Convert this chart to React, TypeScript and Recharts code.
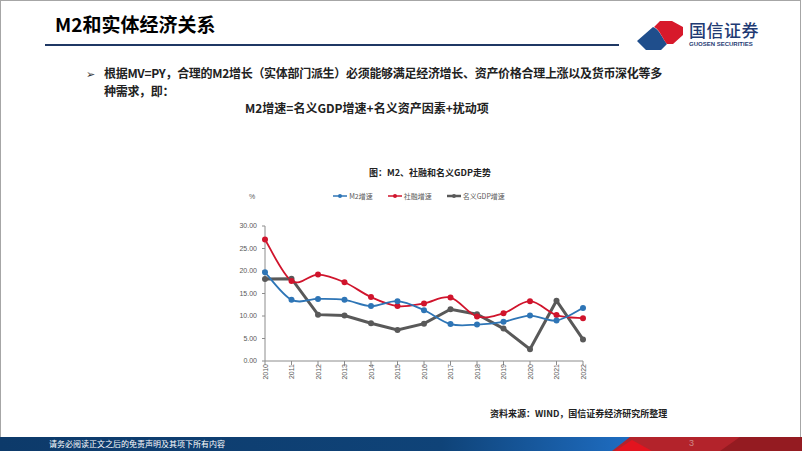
import React from "react";
import { LineChart, Line, XAxis, YAxis, Legend } from "recharts";

const years = ["2010", "2011", "2012", "2013", "2014", "2015", "2016", "2017", "2018", "2019", "2020", "2021", "2022"];
const m2Growth = [19.7, 13.6, 13.8, 13.6, 12.2, 13.3, 11.3, 8.2, 8.1, 8.7, 10.1, 9.0, 11.8];
const tsfGrowth = [27.0, 17.8, 19.2, 17.5, 14.2, 12.2, 12.8, 14.1, 9.9, 10.6, 13.3, 10.2, 9.5];
const gdpGrowth = [18.2, 18.3, 10.3, 10.1, 8.4, 6.9, 8.3, 11.5, 10.4, 7.2, 2.6, 13.4, 4.8];
const yTicks = [0, 5, 10, 15, 20, 25, 30];

const seriesNames = ["M2增速", "社融增速", "名义GDP增速"];
const seriesColors = ["#2E75B6", "#D0142C", "#595959"];

const data = years.map((y, i) => ({ year: y, m2: m2Growth[i], tsf: tsfGrowth[i], gdp: gdpGrowth[i] }));

const CJK = '"Noto Sans CJK SC", "Noto Sans", sans-serif';
const LAT = '"Liberation Sans", Arial, sans-serif';

// Catmull-Rom style smoothing (Excel-like smoothed line)
function smoothCurve(context: any) {
  let pts: number[][] = [];
  return {
    areaStart() {},
    areaEnd() {},
    lineStart() {
      pts = [];
    },
    point(x: number, y: number) {
      pts.push([+x, +y]);
    },
    lineEnd() {
      if (!pts.length) return;
      context.moveTo(pts[0][0], pts[0][1]);
      for (let i = 0; i < pts.length - 1; i++) {
        const p0 = pts[i - 1] || pts[i];
        const p1 = pts[i];
        const p2 = pts[i + 1];
        const p3 = pts[i + 2] || p2;
        const c1x = p1[0] + (p2[0] - p0[0]) / 6;
        const c1y = p1[1] + (p2[1] - p0[1]) / 6;
        const c2x = p2[0] - (p3[0] - p1[0]) / 6;
        const c2y = p2[1] - (p3[1] - p1[1]) / 6;
        context.bezierCurveTo(c1x, c1y, c2x, c2y, p2[0], p2[1]);
      }
    },
  };
}

const XTick = (props: any) => {
  const { x, y, payload } = props;
  return (
    <text
      x={0}
      y={0}
      transform={`translate(${x + 2.5},${y - 1}) rotate(-90)`}
      textAnchor="end"
      fontSize={7}
      fill="#595959"
      fontFamily={LAT}
    >
      {payload.value}
    </text>
  );
};

const LegendContent = () => (
  <div style={{ display: "flex", justifyContent: "center", gap: 15, marginLeft: 18, fontFamily: CJK, fontSize: 7, color: "#595959" }}>
    {seriesNames.map((n, i) => (
      <div key={n} style={{ display: "flex", alignItems: "center" }}>
        <svg width={14} height={8} style={{ marginRight: 2 }}>
          <line x1={0} y1={4} x2={14} y2={4} stroke={seriesColors[i]} strokeWidth={i === 2 ? 2.5 : 1.5} />
          <circle cx={7} cy={4} r={2} fill={seriesColors[i]} />
        </svg>
        <span>{n}</span>
      </div>
    ))}
  </div>
);

export default function App() {
  return (
    <div style={{ position: "absolute", left: 0, top: 0, width: 802, height: 451, background: "#fff", overflow: "hidden" }}>
      {/* frame */}
      <div style={{ position: "absolute", left: 0, top: 0, width: 799, height: 437, borderTop: "1px solid #A6A6A6", borderLeft: "1px solid #A6A6A6", borderRight: "1px solid #A6A6A6" }} />
      {/* title */}
      <div style={{ position: "absolute", left: 55, top: 10, fontFamily: CJK, fontWeight: 700, fontSize: 19, color: "#000", lineHeight: "28px", whiteSpace: "nowrap" }}>
        M2和实体经济关系
      </div>
      <div style={{ position: "absolute", left: 45, top: 44, width: 574, height: 2, background: "#1F3864" }} />
      {/* logo */}
      <svg style={{ position: "absolute", left: 0, top: 0 }} width={802} height={60}>
        <path d="M637,41 L653,27 C660,30 662,38 667,44 L661,50 L646,50 Z" fill="#1F4E8C" />
        <path d="M654,27 L660,21 L672,21 L683,27 L683,35 L673,44 L667,44 C662,38 660,30 654,27 Z" fill="#D7192B" />
      </svg>
      <div style={{ position: "absolute", left: 689, top: 19, fontFamily: CJK, fontSize: 17, fontWeight: 500, color: "#1F3B73", lineHeight: "22px", letterSpacing: 0.5, whiteSpace: "nowrap" }}>
        国信证券
      </div>
      <div style={{ position: "absolute", left: 689, top: 40, fontFamily: LAT, fontSize: 6, fontWeight: 700, color: "#1F3B73", lineHeight: "8px", whiteSpace: "nowrap" }}>
        GUOSEN SECURITIES
      </div>
      {/* bullet text */}
      <div style={{ position: "absolute", left: 86, top: 64, fontFamily: CJK, fontSize: 11, color: "#333", lineHeight: "18px" }}>➢</div>
      <div style={{ position: "absolute", left: 104, top: 64, fontFamily: CJK, fontWeight: 700, fontSize: 12, letterSpacing: -0.3, color: "#222", lineHeight: "18px", whiteSpace: "nowrap" }}>
        根据MV=PY，合理的M2增长（实体部门派生）必须能够满足经济增长、资产价格合理上涨以及货币深化等多
        <br />
        种需求，即：
      </div>
      <div style={{ position: "absolute", left: 245, top: 99, fontFamily: CJK, fontWeight: 700, fontSize: 12, color: "#222", lineHeight: "18px", whiteSpace: "nowrap" }}>
        M2增速=名义GDP增速+名义资产因素+扰动项
      </div>
      {/* chart title */}
      <div style={{ position: "absolute", left: 220, top: 166, width: 420, textAlign: "center", fontFamily: CJK, fontWeight: 700, fontSize: 9, color: "#222", lineHeight: "14px" }}>
        图：M2、社融和名义GDP走势
      </div>
      <div style={{ position: "absolute", left: 249, top: 192, fontFamily: LAT, fontSize: 7, color: "#595959", lineHeight: "10px" }}>%</div>
      {/* chart */}
      <div style={{ position: "absolute", left: 200, top: 180 }}>
        <LineChart width={420} height={220} data={data} margin={{ top: 36, right: 37, left: 0, bottom: 9 }}>
          <XAxis
            dataKey="year"
            interval={0}
            height={30}
            padding={{ left: 0, right: 0 }}
            stroke="#8C8C8C"
            tickSize={4}
            tickMargin={0}
            tick={<XTick />}
          />
          <YAxis
            width={65}
            domain={[0, 30]}
            ticks={yTicks}
            interval={0}
            stroke="#8C8C8C"
            tickSize={3}
            tickMargin={5}
            tickFormatter={(v: number) => v.toFixed(2)}
            tick={{ fontSize: 7, fill: "#595959", fontFamily: LAT }}
          />
          <Legend verticalAlign="top" wrapperStyle={{ position: "absolute", top: 11, left: 0, width: 420 }} content={<LegendContent />} />
          <Line
            dataKey="gdp"
            name={seriesNames[2]}
            type="linear"
            stroke={seriesColors[2]}
            strokeWidth={3}
            dot={{ r: 3, fill: seriesColors[2], stroke: seriesColors[2], strokeWidth: 0 }}
            isAnimationActive={false}
          />
          <Line
            dataKey="tsf"
            name={seriesNames[1]}
            type={smoothCurve as any}
            stroke={seriesColors[1]}
            strokeWidth={1.8}
            dot={{ r: 3, fill: seriesColors[1], stroke: seriesColors[1], strokeWidth: 0 }}
            isAnimationActive={false}
          />
          <Line
            dataKey="m2"
            name={seriesNames[0]}
            type={smoothCurve as any}
            stroke={seriesColors[0]}
            strokeWidth={1.8}
            dot={{ r: 3, fill: seriesColors[0], stroke: seriesColors[0], strokeWidth: 0 }}
            isAnimationActive={false}
          />
        </LineChart>
      </div>
      {/* source */}
      <div style={{ position: "absolute", left: 490, top: 407, fontFamily: CJK, fontWeight: 700, fontSize: 9, color: "#222", lineHeight: "13px", whiteSpace: "nowrap" }}>
        资料来源：WIND，国信证券经济研究所整理
      </div>
      {/* footer */}
      <svg style={{ position: "absolute", left: 0, top: 437 }} width={802} height={14}>
        <defs>
          <linearGradient id="fb" x1="0" x2="1" y1="0" y2="0">
            <stop offset="0" stopColor="#0D3A6A" />
            <stop offset="0.55" stopColor="#0F4378" />
            <stop offset="0.78" stopColor="#1E6CC0" />
          </linearGradient>
        </defs>
        <rect x={0} y={0} width={802} height={14} fill="url(#fb)" />
        <polygon points="612,14 630,0 802,0 802,14" fill="#B3232B" />
        <polygon points="615,14 632,3 652,14" fill="#E3141F" />
        <polygon points="720,14 740,0 802,0 802,14" fill="#941B21" />
      </svg>
      <div style={{ position: "absolute", left: 49, top: 438, fontFamily: CJK, fontSize: 8, color: "#fff", lineHeight: "12px", whiteSpace: "nowrap" }}>
        请务必阅读正文之后的免责声明及其项下所有内容
      </div>
      <div style={{ position: "absolute", left: 689, top: 437, fontFamily: LAT, fontSize: 9, color: "#D08A8A", lineHeight: "12px" }}>3</div>
    </div>
  );
}
